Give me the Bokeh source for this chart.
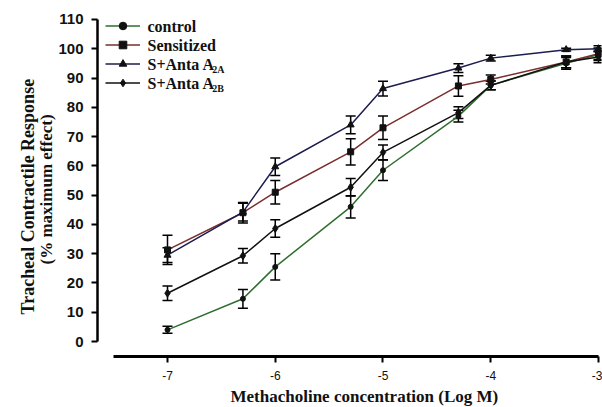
from bokeh.plotting import figure
from bokeh.models import (ColumnDataSource, Whisker, TeeHead, Legend, LegendItem,
                          Label, FixedTicker, Range1d, Title, PrintfTickFormatter)
from bokeh.embed import file_html
from bokeh.resources import INLINE

# ---- data ----
log_conc = [-7, -6.3, -6, -5.3, -5, -4.3, -4, -3.3, -3]
x_ticks = [-7, -6, -5, -4, -3]
y_ticks = [0, 10, 20, 30, 40, 50, 60, 70, 80, 90, 100, 110]

control = [4, 14.6, 25.5, 46, 58.5, 77, 87.5, 95, 98]
control_err = [1.2, 3.2, 4.5, 3.8, 3.5, 2, 1.5, 2, 2]
sensitized = [31.3, 44, 51, 64.8, 73, 87.3, 89.5, 95.5, 98.3]
sensitized_err = [5, 3.5, 4, 4.5, 4, 3.5, 1.5, 2, 2]
anta_2a = [29.5, 44.2, 59.7, 74, 86.4, 93.4, 96.8, 99.7, 100]
anta_2a_err = [2.5, 3, 3, 3, 2.5, 1.5, 1, 0.5, 1]
anta_2b = [16.5, 29.3, 38.6, 52.7, 64.6, 78.2, 87.5, 95.5, 97.2]
anta_2b_err = [2.5, 2.5, 3, 3, 2.5, 2, 1.5, 2, 2]

series_names = ["control", "Sensitized", "S+Anta A", "S+Anta A"]
series_subscripts = ["", "", "2A", "2B"]

series = [
    (control, control_err, "#2e6e2e", "circle", 5),
    (sensitized, sensitized_err, "#7a2e2e", "square", 6),
    (anta_2a, anta_2a_err, "#1c1c4e", "triangle", 7),
    (anta_2b, anta_2b_err, "#111111", "diamond", 8),
]

SERIF = "Liberation Serif"
SANS = "Liberation Sans"

p = figure(width=602, height=407, output_backend="svg", toolbar_location=None,
           x_range=Range1d(-7.6497, -2.972), y_range=Range1d(-5.11, 113.75),
           min_border_left=97, min_border_right=1, min_border_top=8,
           min_border_bottom=50)
p.outline_line_color = None
p.grid.visible = False
p.background_fill_color = "white"
p.border_fill_color = "white"

# axes
p.yaxis.bounds = (0, 110)
p.yaxis.ticker = FixedTicker(ticks=y_ticks)
p.yaxis.axis_line_width = 2.5
p.yaxis.major_tick_line_width = 2
p.yaxis.major_tick_out = 6
p.yaxis.major_tick_in = 0
p.yaxis.minor_tick_line_color = None
p.yaxis.major_label_standoff = 8
p.yaxis.major_label_text_font = SANS
p.yaxis.major_label_text_font_style = "bold"
p.yaxis.major_label_text_font_size = "15px"
p.yaxis.major_label_text_color = "#111111"

p.xaxis.bounds = (-7.5, -3)
p.xaxis.ticker = FixedTicker(ticks=x_ticks)
p.xaxis.formatter = PrintfTickFormatter(format="%d")
p.xaxis.axis_line_width = 3
p.xaxis.major_tick_line_width = 2
p.xaxis.major_tick_out = 6
p.xaxis.major_tick_in = 0
p.xaxis.minor_tick_line_color = None
p.xaxis.major_label_standoff = 8
p.xaxis.major_label_text_font = SANS
p.xaxis.major_label_text_font_size = "12px"
p.xaxis.major_label_text_color = "#111111"

items = []
for vals, errs, color, marker, size in series:
    src = ColumnDataSource(dict(x=log_conc, y=vals,
                                lo=[v - e for v, e in zip(vals, errs)],
                                hi=[v + e for v, e in zip(vals, errs)]))
    ln = p.line("x", "y", source=src, line_color=color, line_width=1.5)
    items.append((ln, src, marker, size))

for ln, src, marker, size in items:
    w = Whisker(base="x", lower="lo", upper="hi", source=src,
                line_color="black", line_width=1.5,
                upper_head=TeeHead(size=10, line_color="black", line_width=1.5),
                lower_head=TeeHead(size=10, line_color="black", line_width=1.5))
    p.add_layout(w)

legend_items = []
for ln, src, marker, size in items:
    mk = p.scatter("x", "y", source=src, marker=marker, size=size,
                   fill_color="#111111", line_color="#111111")
    legend_items.append(LegendItem(label=" ", renderers=[ln, mk]))

# legend samples (lines + markers); the texts are drawn as serif labels below
legend = Legend(items=legend_items, location="top_left",
                border_line_color=None, background_fill_alpha=0,
                margin=8, padding=0, spacing=0, label_height=19,
                glyph_height=19, glyph_width=35, label_standoff=7,
                label_text_font_size="15px")
p.add_layout(legend)

# legend texts in data coordinates matching the legend rows
row_y = [107.79, 101.32, 94.85, 88.38]
for name, sub, yy in zip(series_names, series_subscripts, row_y):
    p.add_layout(Label(x=-7.1857, y=yy - 0.2, text=name, text_font=SERIF,
                       text_font_style="bold", text_font_size="16px",
                       text_color="#111111", text_baseline="alphabetic"))
    if sub:
        p.add_layout(Label(x=-6.585, y=yy - 1.9, text=sub, text_font=SERIF,
                           text_font_style="bold", text_font_size="10px",
                           text_color="#111111", text_baseline="alphabetic"))

# axis titles
t1 = Title(text="(% maximum effect)", align="left", offset=92, standoff=0,
           text_font=SERIF, text_font_style="bold", text_font_size="17px",
           text_color="#111111")
t2 = Title(text="Tracheal Contractile Response", align="left", offset=42,
           standoff=-7, text_font=SERIF, text_font_style="bold",
           text_font_size="18px", text_color="#111111")
p.add_layout(t1, "left")
p.add_layout(t2, "left")
tx = Title(text="Methacholine concentration (Log M)", align="left", offset=133,
           standoff=4, text_font=SERIF, text_font_style="bold",
           text_font_size="17px", text_color="#111111")
p.add_layout(tx, "below")

open("out.html", "w").write(file_html(p, INLINE))
